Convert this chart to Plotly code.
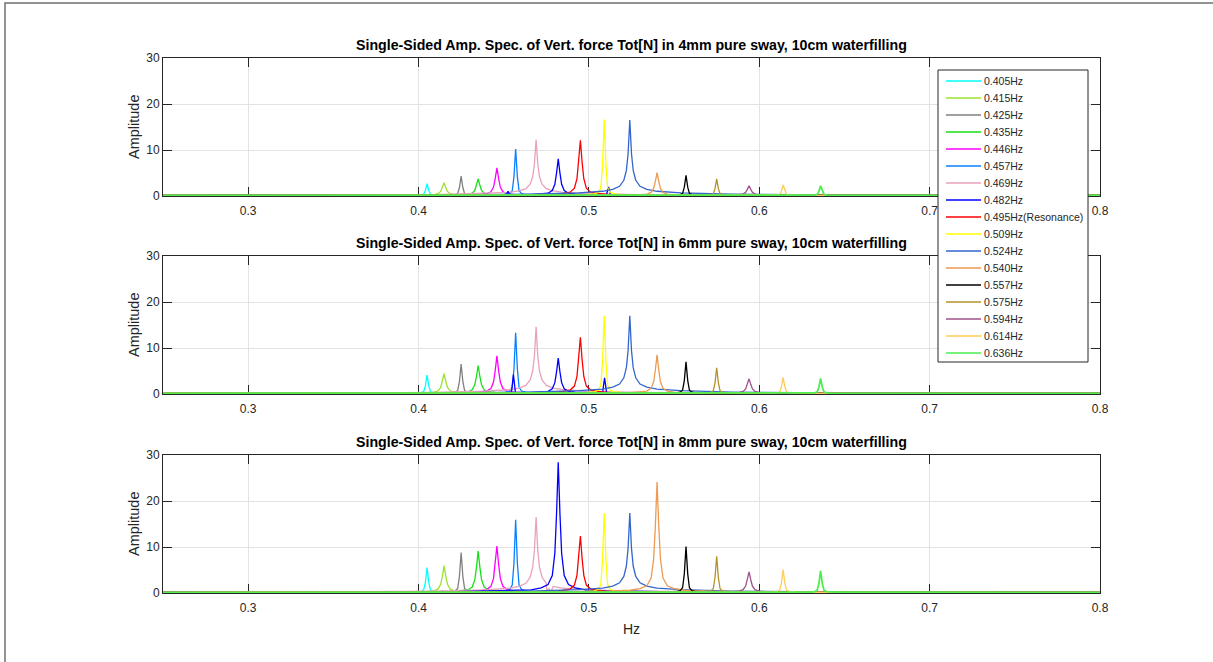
import plotly.graph_objects as go

# ---- data -------------------------------------------------------------
FREQ_LABELS = ["0.405Hz", "0.415Hz", "0.425Hz", "0.435Hz", "0.446Hz", "0.457Hz",
               "0.469Hz", "0.482Hz", "0.495Hz(Resonance)", "0.509Hz", "0.524Hz",
               "0.540Hz", "0.557Hz", "0.575Hz", "0.594Hz", "0.614Hz", "0.636Hz"]
FREQS = [0.405, 0.415, 0.425, 0.435, 0.446, 0.457, 0.469, 0.482, 0.495,
         0.509, 0.524, 0.540, 0.557, 0.575, 0.594, 0.614, 0.636]
COLORS = ["#00ffff", "#9be22f", "#808080", "#16e016", "#ff00ff", "#0a80ff",
          "#e8a2bb", "#0000ff", "#ff0000", "#ffff00", "#3366cc", "#ee9a52",
          "#000000", "#b3922b", "#a0508c", "#ffcc55", "#4dee4d"]

# peak amplitude of each excitation frequency, per sway amplitude
AMP_4MM = [2.7, 2.9, 4.3, 3.7, 6.1, 10.2, 12.3, 8.1, 12.1, 16.6, 16.5, 5.1, 4.5, 3.7, 2.2, 2.4, 2.2]
AMP_6MM = [4.1, 4.4, 6.5, 6.2, 8.3, 13.3, 14.6, 7.8, 12.3, 17.0, 17.0, 8.5, 7.0, 5.7, 3.3, 3.6, 3.4]
AMP_8MM = [5.5, 5.9, 8.8, 9.1, 10.2, 15.9, 16.5, 28.4, 12.4, 17.4, 17.4, 24.1, 10.1, 8.0, 4.6, 5.1, 4.8]
PANEL_AMPS = [AMP_4MM, AMP_6MM, AMP_8MM]
PANEL_TITLES = [
    "Single-Sided Amp. Spec. of Vert. force Tot[N] in 4mm pure sway, 10cm waterfilling",
    "Single-Sided Amp. Spec. of Vert. force Tot[N] in 6mm pure sway, 10cm waterfilling",
    "Single-Sided Amp. Spec. of Vert. force Tot[N] in 8mm pure sway, 10cm waterfilling",
]

# peak shape: distance from the peak (Hz) and level relative to the peak
OFFSETS = [0.001, 0.002, 0.0035, 0.006, 0.01, 0.016, 0.03, 0.06, 0.12, 0.5]
PROFILES = {
    "narrow": [0.40, 0.10, 0.04, 0.02, 0.012, 0.008, 0.005, 0.003, 0.002, 0.0],
    "medium": [0.60, 0.30, 0.13, 0.06, 0.035, 0.020, 0.012, 0.006, 0.003, 0.0],
    "broad":  [0.55, 0.33, 0.20, 0.12, 0.080, 0.055, 0.035, 0.016, 0.006, 0.0],
}
PROFILE_KIND = ["narrow", "medium", "narrow", "medium", "medium", "narrow",
                "broad", "medium", "medium", "narrow", "broad", "medium",
                "narrow", "narrow", "medium", "narrow", "narrow"]

# secondary peaks: (panel, series index, frequency, amplitude)
SIDE_PEAKS = [
    (0, 7, 0.4525, 1.0), (0, 7, 0.5115, 2.0),
    (1, 7, 0.4557, 4.2), (1, 7, 0.5092, 3.5),
    (2, 6, 0.4765, 1.0), (2, 4, 0.4140, 0.5),
]
NOISE_FLOOR = 0.12
X_RANGE = [0.25, 0.8]
Y_RANGE = [0, 30]
Y_TICKS = [0, 10, 20, 30]
X_TICKS = [0.3, 0.4, 0.5, 0.6, 0.7, 0.8]

# ---- layout geometry (pixels) ------------------------------------------
W, H = 1213, 662
PL, PR, PT, PB = 163, 1100, 58, 593
PANEL_PX = [(58, 196), (256, 394), (455, 593)]
FONT = "Liberation Sans, Arial, sans-serif"


def px_x(x):
    return (x - PL) / (PR - PL)


def px_y(y):
    return (PB - y) / (PB - PT)


def spectrum(f0, amp, kind, sides):
    prof = PROFILES[kind]
    pts = [(f0, amp)]
    for off, r in zip(OFFSETS, prof):
        pts.append((f0 - off, NOISE_FLOOR + amp * r))
        pts.append((f0 + off, NOISE_FLOOR + amp * r))
    for f, a in sides:
        pts = [p for p in pts if abs(p[0] - f) > 0.0015 or p[0] == f0]
        pts += [(f - 0.0012, NOISE_FLOOR + 0.1), (f, a), (f + 0.0012, NOISE_FLOOR + 0.1)]
    pts += [(X_RANGE[0], NOISE_FLOOR), (X_RANGE[1], NOISE_FLOOR)]
    pts.sort()
    return [p[0] for p in pts], [p[1] for p in pts]


fig = go.Figure()
axis_font = dict(family=FONT, size=12, color="#262626")

for p, amps in enumerate(PANEL_AMPS):
    sfx = "" if p == 0 else str(p + 1)
    for i, (f0, a) in enumerate(zip(FREQS, amps)):
        sides = [(f, sa) for (pp, si, f, sa) in SIDE_PEAKS if pp == p and si == i]
        xs, ys = spectrum(f0, a, PROFILE_KIND[i], sides)
        last = i == len(FREQS) - 1
        fig.add_trace(go.Scatter(
            x=xs, y=ys, mode="lines", name=FREQ_LABELS[i],
            line=dict(color=COLORS[i], width=1.8 if last else 1.3),
            xaxis="x" + sfx, yaxis="y" + sfx, showlegend=False,
            hoverinfo="skip"))

    top, bot = PANEL_PX[p]
    common = dict(showline=True, linecolor="#262626", linewidth=1, mirror="allticks",
                  ticks="inside", ticklen=9, tickcolor="#262626", tickwidth=1,
                  showgrid=True, gridcolor="#e3e3e3", gridwidth=1, zeroline=False,
                  tickfont=axis_font, layer="below traces")
    fig.layout["xaxis" + sfx] = dict(
        common, domain=[0, 1], range=X_RANGE, tickvals=X_TICKS,
        ticktext=[f"{v:.1f}" for v in X_TICKS], anchor="y" + sfx,
        ticklabelstandoff=4)
    fig.layout["yaxis" + sfx] = dict(
        common, domain=[px_y(bot), px_y(top)], range=Y_RANGE, tickvals=Y_TICKS,
        anchor="x" + sfx)

    fig.add_annotation(
        text="<b>" + PANEL_TITLES[p] + "</b>", xref="paper", yref="paper",
        x=0.5, y=px_y(top - 13), xanchor="center", yanchor="middle", showarrow=False,
        font=dict(family=FONT, size=14.2, color="#000000"))
    fig.add_annotation(
        text="Amplitude", xref="paper", yref="paper", textangle=-90,
        x=px_x(134), y=px_y((top + bot) / 2), xanchor="center", yanchor="middle",
        showarrow=False,
        font=dict(family=FONT, size=14.5, color="#262626"))

fig.add_annotation(
    text="Hz", xref="paper", yref="paper", x=0.5, y=px_y(629),
    xanchor="center", yanchor="middle", showarrow=False,
    font=dict(family=FONT, size=14, color="#262626"))

shapes = []
# outer figure frame
shapes.append(dict(type="path", xref="paper", yref="paper",
                   path=f"M {px_x(5)} {px_y(H)} L {px_x(5)} {px_y(3)} L {px_x(W)} {px_y(3)}",
                   line=dict(color="#707070", width=1.5)))

# legend box drawn above the top two panels
LEG_L, LEG_R, LEG_T, LEG_B = 938, 1088, 70, 362
LEG_ROW0, LEG_STEP = 81, 17
shapes.append(dict(type="rect", xref="paper", yref="paper", layer="above",
                   x0=px_x(LEG_L), x1=px_x(LEG_R), y0=px_y(LEG_B), y1=px_y(LEG_T),
                   fillcolor="white", line=dict(color="#262626", width=1)))
for i, (lab, col) in enumerate(zip(FREQ_LABELS, COLORS)):
    yy = LEG_ROW0 + LEG_STEP * i
    shapes.append(dict(type="line", xref="paper", yref="paper", layer="above",
                       x0=px_x(946), x1=px_x(981), y0=px_y(yy), y1=px_y(yy),
                       line=dict(color=col, width=1.3)))
    fig.add_annotation(
        text=lab, xref="paper", yref="paper", x=px_x(982), y=px_y(yy),
        xanchor="left", yanchor="middle", showarrow=False,
        font=dict(family=FONT, size=10.5, color="#262626"))

fig.update_layout(
    width=W, height=H, shapes=shapes,
    margin=dict(l=PL, r=W - PR, t=PT, b=H - PB, pad=0),
    paper_bgcolor="white", plot_bgcolor="white", showlegend=False,
)

fig.write_html("out.html")
